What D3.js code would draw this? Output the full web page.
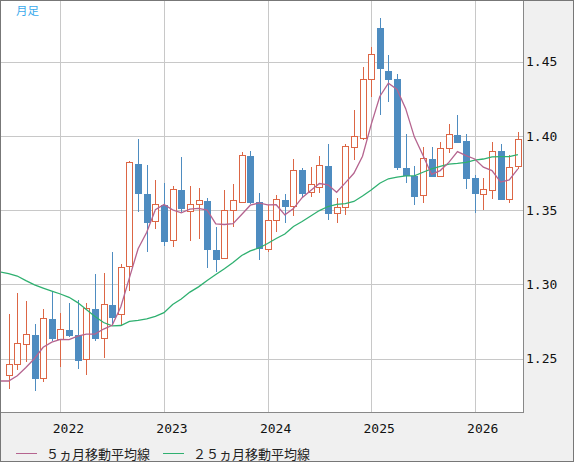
<!DOCTYPE html>
<meta charset="utf-8">
<style>
body { margin: 0; background: #f0f0f0; }
svg { display: block; }
.axis text { font-family: "DejaVu Sans Mono", monospace; font-size: 13px; fill: #111; }
.legend text { font-family: "Noto Sans CJK JP", sans-serif; font-size: 13px; fill: #222; }
</style>
<svg width="574" height="462"></svg>
<script src="https://d3js.org/d3.v7.min.js"></script>
<script>

// monthly candles, Jul 2021 .. Jun 2026
var firstMonth = new Date(2021, 6, 1);

var opens = [1.2390, 1.2465, 1.2605, 1.2670, 1.2370, 1.2774, 1.2628, 1.2700, 1.2667, 1.2496,
             1.2842, 1.2642, 1.2869, 1.2801, 1.3123, 1.3818, 1.3618, 1.3426, 1.3542, 1.3295,
             1.3643, 1.3493, 1.3540, 1.3569, 1.3239, 1.3176, 1.3500, 1.3558, 1.3872, 1.3562,
             1.3237, 1.3430, 1.3576, 1.3524, 1.3778, 1.3621, 1.3659, 1.3807, 1.3479, 1.3520,
             1.3928, 1.3984, 1.4382, 1.4736, 1.4444, 1.4389, 1.3790, 1.3737, 1.3603, 1.3850,
             1.3731, 1.3917, 1.4013, 1.3973, 1.3722, 1.3607, 1.3641, 1.3906, 1.3580, 1.3793];

var highs = [1.2800, 1.2945, 1.2890, 1.2735, 1.2835, 1.2958, 1.2810, 1.2878, 1.2896, 1.2878,
             1.3071, 1.3080, 1.3221, 1.3138, 1.3830, 1.3977, 1.3805, 1.3704, 1.3686, 1.3663,
             1.3861, 1.3663, 1.3650, 1.3582, 1.3385, 1.3636, 1.3677, 1.3892, 1.3899, 1.3618,
             1.3535, 1.3603, 1.3609, 1.3847, 1.3785, 1.3793, 1.3865, 1.3946, 1.3580, 1.3947,
             1.4175, 1.4463, 1.4597, 1.4797, 1.4545, 1.4418, 1.4016, 1.3798, 1.3928, 1.3928,
             1.3962, 1.4081, 1.4141, 1.4013, 1.3740, 1.3715, 1.3962, 1.3946, 1.3872, 1.4025];

var lows = [1.2295, 1.2425, 1.2480, 1.2280, 1.2345, 1.2620, 1.2442, 1.2644, 1.2430, 1.2391,
            1.2622, 1.2507, 1.2727, 1.2721, 1.2953, 1.3490, 1.3221, 1.3374, 1.3262, 1.3255,
            1.3490, 1.3295, 1.3306, 1.3109, 1.3086, 1.3170, 1.3389, 1.3550, 1.3540, 1.3165,
            1.3221, 1.3356, 1.3416, 1.3461, 1.3591, 1.3591, 1.3614, 1.3434, 1.3416, 1.3468,
            1.3840, 1.3970, 1.4261, 1.4141, 1.4231, 1.3771, 1.3681, 1.3532, 1.3551, 1.3722,
            1.3722, 1.3883, 1.3950, 1.3641, 1.3479, 1.3502, 1.3574, 1.3570, 1.3547, 1.3780];

var closes = [1.2465, 1.2605, 1.2670, 1.2375, 1.2772, 1.2640, 1.2698, 1.2660, 1.2492, 1.2840,
              1.2640, 1.2869, 1.2783, 1.3116, 1.3823, 1.3614, 1.3423, 1.3540, 1.3295, 1.3641,
              1.3517, 1.3540, 1.3567, 1.3241, 1.3174, 1.3500, 1.3567, 1.3872, 1.3558, 1.3248,
              1.3434, 1.3574, 1.3531, 1.3769, 1.3618, 1.3675, 1.3805, 1.3486, 1.3520, 1.3933,
              1.4000, 1.4382, 1.4550, 1.4463, 1.4384, 1.3787, 1.3737, 1.3598, 1.3850, 1.3731,
              1.3917, 1.4013, 1.3962, 1.3719, 1.3614, 1.3641, 1.3901, 1.3576, 1.3793, 1.3978];

// moving averages; first value belongs to Jun 2021 (left edge)
var ma5 = [1.2350,
           1.2350, 1.2385, 1.2441, 1.2502, 1.2577, 1.2612, 1.2631, 1.2629, 1.2652, 1.2666,
           1.2666, 1.2700, 1.2725, 1.2850, 1.3046, 1.3241, 1.3352, 1.3503, 1.3539, 1.3503,
           1.3483, 1.3507, 1.3512, 1.3501, 1.3408, 1.3404, 1.3410, 1.3471, 1.3534, 1.3549,
           1.3536, 1.3537, 1.3469, 1.3511, 1.3585, 1.3633, 1.3680, 1.3671, 1.3621, 1.3684,
           1.3749, 1.3864, 1.4077, 1.4266, 1.4356, 1.4313, 1.4184, 1.3994, 1.3871, 1.3741,
           1.3767, 1.3822, 1.3895, 1.3868, 1.3845, 1.3790, 1.3767, 1.3690, 1.3705, 1.3778];

var ma25 = [1.3084,
            1.3073, 1.3057, 1.3026, 1.2997, 1.2976, 1.2956, 1.2936, 1.2914, 1.2878, 1.2832,
            1.2785, 1.2744, 1.2722, 1.2724, 1.2751, 1.2758, 1.2768, 1.2785, 1.2810, 1.2865,
            1.2902, 1.2949, 1.2984, 1.3027, 1.3067, 1.3106, 1.3148, 1.3195, 1.3226, 1.3246,
            1.3276, 1.3310, 1.3340, 1.3391, 1.3424, 1.3461, 1.3498, 1.3525, 1.3539, 1.3545,
            1.3559, 1.3596, 1.3636, 1.3682, 1.3712, 1.3723, 1.3731, 1.3732, 1.3756, 1.3778,
            1.3795, 1.3811, 1.3816, 1.3823, 1.3837, 1.3845, 1.3859, 1.3861, 1.3861, 1.3875];

var years = [2022, 2023, 2024, 2025, 2026];
var yTicks = [1.25, 1.30, 1.35, 1.40, 1.45];
var legendNames = ["５ヵ月移動平均線", "２５ヵ月移動平均線"];

var upColor = "#dc6645",
    downColor = "#4e8cc0",
    ma5Color = "#b5648f",
    ma25Color = "#2fb070";

var svg = d3.select("svg"),
    width = +svg.attr("width"),
    height = +svg.attr("height");

var plotRight = 523, plotBottom = 412;

var x = d3.scaleLinear().domain([-1, 59.65]).range([0, 523.5]);
var y = d3.scaleLinear().domain([1.21414, 1.49158]).range([plotBottom, 0]);

function px(i) { return Math.round(x(i)) + 0.5; }
function py(v) { return Math.round(y(v)) + 0.5; }

// month index of each January
var janIdx = years.map(function(yr) {
  return d3.timeMonth.count(firstMonth, new Date(yr, 0, 1));
});

svg.append("rect").attr("width", width).attr("height", height).attr("fill", "#f0f0f0");
svg.append("rect")
    .attr("x", 1).attr("y", 1)
    .attr("width", plotRight - 1).attr("height", plotBottom - 1)
    .attr("fill", "#fff");

svg.append("clipPath").attr("id", "clip")
  .append("rect").attr("x", 1).attr("y", 1)
    .attr("width", plotRight - 1).attr("height", plotBottom - 1);

var grid = svg.append("g").attr("shape-rendering", "crispEdges");
grid.selectAll("line.h")
  .data(yTicks)
  .join("line")
    .attr("class", "h")
    .attr("x1", 1).attr("x2", plotRight)
    .attr("y1", py).attr("y2", py)
    .attr("stroke", "#c8c8c8");
grid.selectAll("line.v")
  .data(janIdx)
  .join("line")
    .attr("class", "v")
    .attr("x1", px).attr("x2", px)
    .attr("y1", 1).attr("y2", plotBottom)
    .attr("stroke", "#c8c8c8");

var plot = svg.append("g").attr("clip-path", "url(#clip)");

var candle = plot.selectAll("g.candle")
  .data(closes.map(function(c, i) { return i; }))
  .join("g")
    .attr("class", "candle")
    .attr("shape-rendering", "crispEdges");

candle.append("line")
    .attr("x1", px).attr("x2", px)
    .attr("y1", function(i) { return y(highs[i]); })
    .attr("y2", function(i) { return y(lows[i]); })
    .attr("stroke", function(i) { return closes[i] >= opens[i] ? upColor : downColor; })
    .attr("stroke-width", 1);

candle.append("rect")
    .attr("x", function(i) { return closes[i] >= opens[i] ? px(i) - 3 : px(i) - 3.5; })
    .attr("width", function(i) { return closes[i] >= opens[i] ? 6 : 7; })
    .attr("y", function(i) { return Math.round(y(Math.max(opens[i], closes[i]))) + 0.5; })
    .attr("height", function(i) {
      return Math.max(1, Math.round(Math.abs(y(opens[i]) - y(closes[i]))));
    })
    .attr("fill", function(i) { return closes[i] >= opens[i] ? "#fff" : downColor; })
    .attr("stroke", function(i) { return closes[i] >= opens[i] ? upColor : "none"; })
    .attr("stroke-width", 1);

var line = d3.line()
    .x(function(d, i) { return x(i - 1); })
    .y(function(d) { return y(d); });

plot.append("path")
    .datum(ma25)
    .attr("fill", "none")
    .attr("stroke", ma25Color)
    .attr("stroke-width", 1.3)
    .attr("d", line);

plot.append("path")
    .datum(ma5)
    .attr("fill", "none")
    .attr("stroke", ma5Color)
    .attr("stroke-width", 1.3)
    .attr("d", line);

// frame
svg.append("path")
    .attr("d", "M1," + (plotBottom + 0.5) + "H" + (plotRight + 0.5) + "V1")
    .attr("fill", "none")
    .attr("stroke", "#888")
    .attr("shape-rendering", "crispEdges");
svg.append("rect")
    .attr("x", 0.5).attr("y", 0.5)
    .attr("width", width - 1).attr("height", height - 1)
    .attr("fill", "none")
    .attr("stroke", "#777")
    .attr("shape-rendering", "crispEdges");

// axes
var yAxis = svg.append("g")
    .attr("class", "axis")
    .attr("transform", "translate(526,0)")
    .call(d3.axisRight(y).tickValues(yTicks).tickSize(0).tickPadding(0)
      .tickFormat(d3.format(".2f")));
yAxis.select(".domain").remove();

var xAxis = svg.append("g")
    .attr("class", "axis")
    .attr("transform", "translate(0," + plotBottom + ")")
    .call(d3.axisBottom(x).tickValues(janIdx).tickSize(0).tickPadding(12)
      .tickFormat(function(d, i) { return years[i]; }));
xAxis.select(".domain").remove();
xAxis.selectAll("text").attr("x", 7.5);

// label top-left
svg.append("text")
    .attr("x", 16).attr("y", 15)
    .attr("font-family", "'Noto Sans CJK JP', sans-serif")
    .attr("font-size", "11.5px")
    .attr("fill", "#3aa9ec")
    .text("月足");

// legend
var legend = svg.append("g").attr("class", "legend");
var legendItems = [
  {name: legendNames[0], color: ma5Color, x: 16},
  {name: legendNames[1], color: ma25Color, x: 163}
];
var li = legend.selectAll("g")
  .data(legendItems)
  .join("g")
    .attr("transform", function(d) { return "translate(" + d.x + ",453)"; });
li.append("line")
    .attr("x1", 0).attr("x2", 21)
    .attr("y1", 0.5).attr("y2", 0.5)
    .attr("stroke", function(d) { return d.color; })
    .attr("shape-rendering", "crispEdges");
li.append("text")
    .attr("x", 30)
    .attr("dominant-baseline", "central")
    .text(function(d) { return d.name; });

</script>
